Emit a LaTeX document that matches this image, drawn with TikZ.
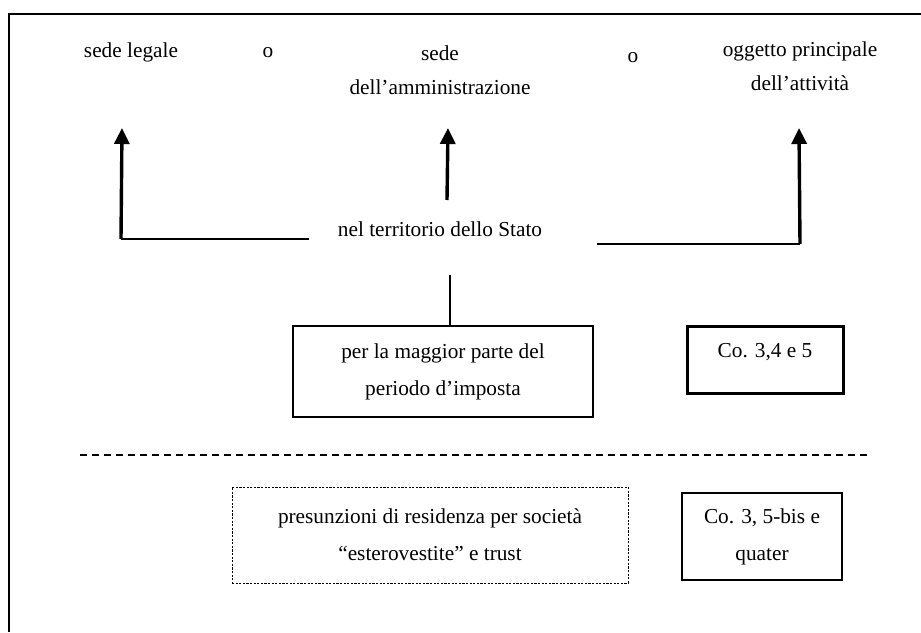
\documentclass[tikz,border=0pt]{standalone}
\usepackage{fontspec}
\setmainfont{Liberation Serif}
\usetikzlibrary{arrows.meta}

\tikzset{
  lbl/.style={align=center, inner sep=0pt, font=\fontsize{21.3}{34}\selectfont},
  boxtext/.style={align=center, font=\fontsize{21.3}{37}\selectfont},
  plainbox/.style={boxtext, draw, line width=1.4pt},
  thickbox/.style={boxtext, draw, line width=3pt},
  dotbox/.style={boxtext, draw, line width=0.9pt, dash pattern=on 2.2pt off 1.4pt},
  thinline/.style={line width=1.3pt},
  uparrow/.style={line width=3.4pt, -{Triangle[width=15pt,length=16pt]}},
  frame/.style={line width=2.2pt},
  separator/.style={line width=1.5pt, dash pattern=on 7pt off 5pt},
}

\begin{document}
\begin{tikzpicture}[x=1pt, y={(0pt,-1pt)}]
  \useasboundingbox (0,0) rectangle (921,632);

  % outer frame (open on the right and at the bottom)
  \draw[frame] (921,14) -- (9,14) -- (9,632);

  % alternatives
  \node[lbl] (sl)  at (131,52) {sede legale};
  \node[lbl] (o1)  at (268,53) {o};
  \node[lbl] (sa)  at (440,70) {sede\\dell’amministrazione};
  \node[lbl] (o2)  at (633,58) {o};
  \node[lbl] (og)  at (800,66) {oggetto principale\\dell’attività};

  % central condition
  \node[lbl] (terr) at (440,229) {nel territorio dello Stato};

  % arrows towards the three alternatives
  \coordinate (lA) at (309,239);
  \coordinate (lC) at (121,239);
  \coordinate (lT) at (122,128);
  \draw[thinline] (lA) -- (lC);
  \draw[uparrow]  (lC) -- (lT);

  \coordinate (mB) at (447,200);
  \coordinate (mT) at (448,128);
  \draw[uparrow] (mB) -- (mT);

  \coordinate (rA) at (597,244);
  \coordinate (rC) at (800,244);
  \coordinate (rT) at (799,128);
  \draw[thinline] (rA) -- (rC);
  \draw[uparrow]  (rC) -- (rT);

  % duration requirement
  \node[plainbox, minimum width=300pt, minimum height=91pt] (per) at (443,371.5)
    {per la maggior parte del\\periodo d’imposta};
  \coordinate (vs) at (450,275);
  \draw[thinline] (vs) -- (vs |- per.north);

  \node[thickbox, minimum width=156pt, inner xsep=4pt, inner ysep=16pt,
        text height=15pt, text depth=20pt] (co1) at (765,359.5) {Co. 3,4 e 5};

  % separator
  \coordinate (sepL) at (80,455);
  \coordinate (sepR) at (870,455);
  \draw[separator] (sepL) -- (sepR);

  % presumptions
  \node[dotbox, minimum width=396pt, minimum height=96pt] (pres) at (430,535)
    {presunzioni di residenza per società\\“esterovestite” e trust};
  \node[plainbox, minimum width=160pt, minimum height=87pt] (co2) at (762,536.5)
    {Co. 3, 5-bis e\\quater};
\end{tikzpicture}
\end{document}
